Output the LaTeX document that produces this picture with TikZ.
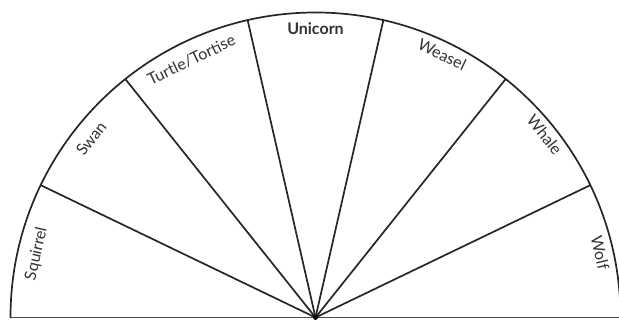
\documentclass[tikz,border=0pt]{standalone}
\usepackage{fontspec}
\setmainfont{Lato}
\begin{document}
\begin{tikzpicture}[x=1pt,y=1pt,
  ln/.style={line width=1.7pt, draw=black!85, line cap=round},
  lab/.style={font=\fontsize{16}{16}\selectfont, text=black!80, inner sep=0pt}]
\useasboundingbox (0,0) rectangle (619,320);
\fill[white] (0,0) rectangle (619,320);
\coordinate (c) at (315.5,2.5);
\coordinate (L) at ([shift={(180:305)}]c);
\coordinate (R) at ([shift={(0:305)}]c);
\draw[ln] (L) arc[start angle=180, end angle=0, radius=305];
\draw[line width=1.2pt, draw=black!70] (L) -- (R);
\foreach \i in {1,...,6} {
  \coordinate (p\i) at ([shift={({180-\i*180/7}:305)}]c);
  \draw[ln] (c) -- (p\i);
}
\foreach \t/\r [count=\i from 0] in {Squirrel/286,Swan/287,{Turtle/Tortise}/286,Unicorn/289,Weasel/292,Whale/293,Wolf/292} {
  \pgfmathsetmacro{\ang}{180-(\i+0.5)*180/7}
  \ifnum\i=3
    \node[lab, font=\fontsize{16}{16}\selectfont\bfseries, rotate=\ang-90] (l\i) at ([shift={(\ang:\r)}]c) {\t};
  \else
    \node[lab, rotate=\ang-90] (l\i) at ([shift={(\ang:\r)}]c) {\t};
  \fi
}
\fill[black] (c) circle (2.5);
\end{tikzpicture}
\end{document}
